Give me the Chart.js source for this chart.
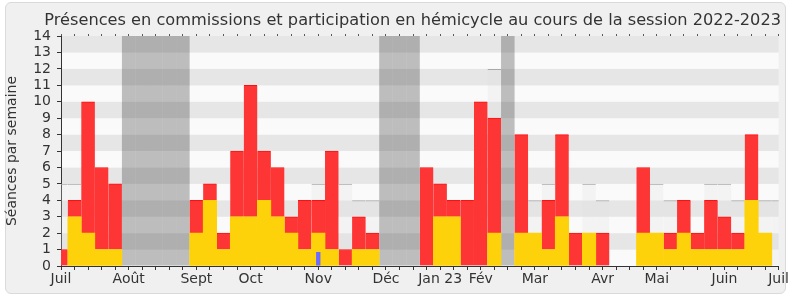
<!DOCTYPE html>
<html>
<head>
<meta charset="utf-8">
<script src="https://cdn.jsdelivr.net/npm/chart.js@4.4.0/dist/chart.umd.min.js"></script>
<style>
    body { margin: 0; background: #fff; }
    #panel { position: absolute; left: 5px; top: 2px; width: 779px; height: 290px; background: #f0f0f0; border: 1px solid #dadada; border-radius: 6px; }
    #chart { position: absolute; left: 0; top: 0; }
</style>
</head>
<body>
<div id="panel"></div>
<canvas id="chart" width="790" height="300"></canvas>
<script>
// libellés des mois et semaine où ils sont placés
const months = ['Juil', 'Août', 'Sept', 'Oct', 'Nov', 'Déc', 'Jan 23', 'Fév', 'Mar', 'Avr', 'Mai', 'Juin', 'Juil'];
const monthWeeks = [0, 5, 10, 14, 19, 24, 28, 31, 35, 40, 44, 49, 53];

// séances par semaine (54 semaines)
const hemicycle = [0, 3, 2, 1, 1, 0, 0, 0, 0, 0, 2, 4, 1, 3, 3, 4, 3, 2, 1, 2, 1, 0, 1, 1, 0, 0, 0,
    0, 3, 3, 0, 0, 2, 0, 2, 2, 1, 3, 0, 2, 0, 0, 0, 2, 2, 1, 2, 1, 1, 1, 1, 4, 2, 0];
const commission = [1, 1, 8, 5, 4, 0, 0, 0, 0, 0, 2, 1, 1, 4, 8, 3, 3, 1, 3, 2, 6, 1, 2, 1, 0, 0, 0,
    6, 2, 1, 4, 10, 7, 0, 6, 0, 3, 5, 2, 0, 2, 0, 0, 4, 0, 1, 2, 1, 3, 2, 1, 4, 0, 0];
const mediane = [5, 5, 0, 0, 0, 0, 0, 0, 0, 0, 0, 0, 0, 0, 0, 0, 0, 0, 0, 5, 0, 5, 4, 4, 0, 0, 0,
    0, 0, 0, 0, 0, 12, 0, 0, 4, 5, 0, 0, 5, 4, 0, 0, 0, 5, 4, 0, 0, 5, 5, 4, 0, 4, 4];
const questions = [0, 0, 0, 0, 0, 0, 0, 0, 0, 0, 0, 0, 0, 0, 0, 0, 0, 0, 0, 0.85, 0, 0, 0, 0, 0, 0, 0,
    0, 0, 0, 0, 0, 0, 0, 0, 0, 0, 0, 0, 0, 0, 0, 0, 0, 0, 0, 0, 0, 0, 0, 0, 0, 0, 0];
const vacationWeeks = [5, 6, 7, 8, 9, 24, 25, 26, 33];
const yMax = 14;

const weekLabels = hemicycle.map((v, i) => {
    const k = monthWeeks.indexOf(i);
    return k >= 0 ? months[k] : '';
});
const noZero = arr => arr.map(v => v === 0 ? null : v);

// bandes horizontales en fond
const stripes = {
    id: 'stripes',
    beforeDraw(chart) {
        const ctx = chart.ctx;
        const a = chart.chartArea;
        const y = chart.scales.y;
        ctx.save();
        for (let v = 0; v < yMax; v++) {
            const top = y.getPixelForValue(v + 1);
            const bottom = y.getPixelForValue(v);
            ctx.fillStyle = v % 2 ? '#e6e6e6' : '#fafafa';
            ctx.fillRect(a.left, top, a.right - a.left, bottom - top);
        }
        ctx.restore();
    }
};

Chart.defaults.font.family = 'DejaVu Sans';
Chart.defaults.color = '#333';

const common = { barPercentage: 1, categoryPercentage: 1, clip: 0, borderWidth: 0, grouped: false, inflateAmount: 0 };

new Chart(document.getElementById('chart').getContext('2d'), {
    type: 'bar',
    data: {
        labels: weekLabels,
        datasets: [
            Object.assign({}, common, {
                label: 'questions', data: noZero(questions), stack: 'q',
                backgroundColor: '#6b6bff', barPercentage: 0.32
            }),
            Object.assign({}, common, {
                label: 'hémicycle', data: noZero(hemicycle), stack: 'p',
                backgroundColor: '#fdd20a', inflateAmount: 0.3
            }),
            Object.assign({}, common, {
                label: 'commission', data: noZero(commission), stack: 'p',
                backgroundColor: '#fe3535', inflateAmount: 0.3,
                borderColor: '#ff1010', borderWidth: { top: 1, left: 0, right: 0, bottom: 0 }
            }),
            Object.assign({}, common, {
                label: 'vacances', stack: 'v',
                data: weekLabels.map((l, i) => vacationWeeks.includes(i) ? yMax : null),
                backgroundColor: 'rgba(50, 50, 50, 0.3)'
            }),
            Object.assign({}, common, {
                label: 'médiane', data: noZero(mediane), stack: 'm',
                backgroundColor: 'rgba(225, 225, 225, 0.25)',
                borderColor: '#a8a8a8', borderWidth: { top: 1, left: 0, right: 0, bottom: 0 }
            })
        ]
    },
    options: {
        responsive: false,
        animation: false,
        layout: { padding: { left: 0, right: 9, top: 0, bottom: 0 } },
        plugins: {
            legend: { display: false },
            tooltip: { enabled: false },
            title: {
                display: true,
                text: 'Présences en commissions et participation en hémicycle au cours de la session 2022-2023',
                align: 'end',
                color: '#333',
                font: { size: 16.2, weight: 'normal' },
                padding: { top: 11, bottom: 3.6 }
            }
        },
        scales: {
            x: {
                type: 'category',
                stacked: true,
                offset: false,
                grid: { offset: false, drawOnChartArea: false, tickLength: 4, color: '#333' },
                border: { color: '#333' },
                ticks: { autoSkip: false, maxRotation: 0, padding: 1, font: { size: 14 } },
                afterFit(s) { s.height = 34; }
            },
            xTop: {
                type: 'category',
                position: 'top',
                offset: false,
                grid: { offset: false, drawOnChartArea: false, tickLength: 2, color: '#555' },
                border: { display: false },
                ticks: { display: false },
                afterFit(s) { s.height = 2; }
            },
            y: {
                stacked: true,
                min: 0,
                max: yMax,
                grid: { drawOnChartArea: false, tickLength: 4, color: '#333' },
                border: { color: '#333' },
                ticks: { stepSize: 1, autoSkip: false, padding: 6, font: { size: 14 } },
                title: { display: true, text: 'Séances par semaine', font: { size: 14 }, padding: { top: 4, bottom: 0 } },
                afterFit(s) { s.width = 61; }
            }
        }
    },
    plugins: [stripes]
});
</script>
</body>
</html>
